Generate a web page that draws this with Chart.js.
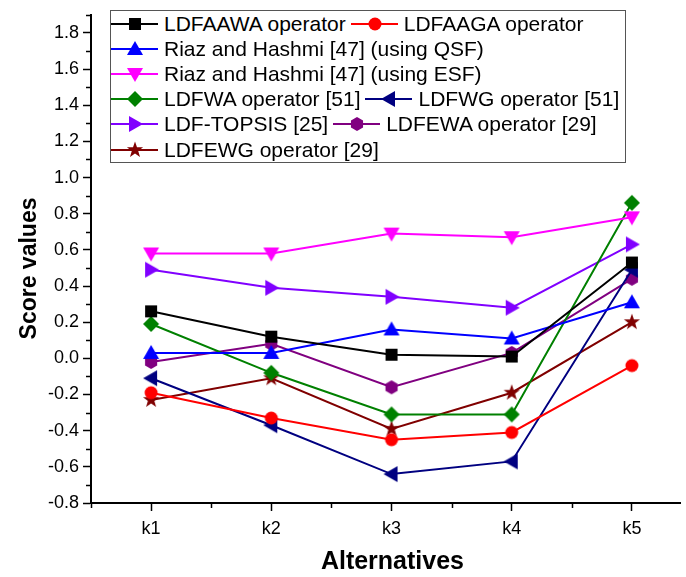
<!DOCTYPE html>
<html>
<head>
<meta charset="utf-8">
<script src="https://cdn.jsdelivr.net/npm/chart.js@4/dist/chart.umd.min.js"></script>
<style>
  body { margin: 0; background: #fff; }
  .wrap { position: relative; width: 686px; height: 577px; overflow: hidden; }
  .legend {
    position: absolute; left: 110px; top: 10px; width: 516px; height: 153px;
    box-sizing: border-box; border: 1px solid #555; background: #fff;
    font-family: "Liberation Sans", Arial, sans-serif; font-size: 21px; color: #000;
    padding-top: 0;
  }
  .legend .row { height: 25.2px; display: flex; align-items: center; white-space: nowrap; }
  .legend .item { display: flex; align-items: center; }
  .legend canvas { margin-right: 6px; }
  .legend .item + .item canvas { margin-left: 5px; }
</style>
</head>
<body>
<div class="wrap">
  <canvas id="chart" width="686" height="577"></canvas>
  <div class="legend" id="legend"></div>
</div>
<script>
const categories = ['k1', 'k2', 'k3', 'k4', 'k5'];

const ldfaawa = [0.26, 0.12, 0.02, 0.01, 0.53];
const ldfaaga = [-0.19, -0.33, -0.45, -0.41, -0.04];
const riazQsf = [0.03, 0.03, 0.16, 0.11, 0.31];
const riazEsf = [0.58, 0.58, 0.69, 0.67, 0.78];
const ldfwa = [0.19, -0.08, -0.31, -0.31, 0.86];
const ldfwg = [-0.11, -0.37, -0.64, -0.57, 0.49];
const ldfTopsis = [0.49, 0.39, 0.34, 0.28, 0.63];
const ldfewa = [-0.02, 0.08, -0.16, 0.03, 0.44];
const ldfewg = [-0.23, -0.11, -0.39, -0.19, 0.20];

const seriesNames = [
  'LDFAAWA operator',
  'LDFAAGA operator',
  'Riaz and Hashmi [47] (using QSF)',
  'Riaz and Hashmi [47] (using ESF)',
  'LDFWA operator [51]',
  'LDFWG operator [51]',
  'LDF-TOPSIS [25]',
  'LDFEWA operator [29]',
  'LDFEWG operator [29]',
];
const seriesValues = [ldfaawa, ldfaaga, riazQsf, riazEsf, ldfwa, ldfwg, ldfTopsis, ldfewa, ldfewg];
const seriesColors = ['#000000', '#ff0000', '#0000ff', '#ff00ff', '#008000', '#000080', '#8000ff', '#800080', '#800000'];
const seriesMarkers = ['square', 'circle', 'up', 'down', 'diamond', 'left', 'right', 'hexagon', 'star'];

// legend rows, as in the original figure
const legendRows = [[0, 1], [2], [3], [4, 5], [6, 7], [8]];

// draw one marker shape on a 2d context
const drawMarker = (ctx, shape, cx, cy, color) => {
  ctx.fillStyle = color;
  ctx.beginPath();
  if (shape === 'square') {
    ctx.rect(cx - 6, cy - 6, 12, 12);
  } else if (shape === 'circle') {
    ctx.arc(cx, cy, 6.5, 0, Math.PI * 2);
  } else if (shape === 'up') {
    ctx.moveTo(cx, cy - 8); ctx.lineTo(cx + 8, cy + 6); ctx.lineTo(cx - 8, cy + 6);
  } else if (shape === 'down') {
    ctx.moveTo(cx, cy + 8); ctx.lineTo(cx + 8, cy - 6); ctx.lineTo(cx - 8, cy - 6);
  } else if (shape === 'left') {
    ctx.moveTo(cx - 8, cy); ctx.lineTo(cx + 6, cy - 8); ctx.lineTo(cx + 6, cy + 8);
  } else if (shape === 'right') {
    ctx.moveTo(cx + 8, cy); ctx.lineTo(cx - 6, cy - 8); ctx.lineTo(cx - 6, cy + 8);
  } else if (shape === 'diamond') {
    ctx.moveTo(cx, cy - 8); ctx.lineTo(cx + 8, cy); ctx.lineTo(cx, cy + 8); ctx.lineTo(cx - 8, cy);
  } else if (shape === 'hexagon') {
    for (let i = 0; i < 6; i++) {
      const a = -Math.PI / 2 + i * Math.PI / 3;
      ctx.lineTo(cx + 7 * Math.cos(a), cy + 7 * Math.sin(a));
    }
  } else if (shape === 'star') {
    for (let i = 0; i < 10; i++) {
      const a = -Math.PI / 2 + i * Math.PI / 5;
      const r = i % 2 === 0 ? 8.5 : 3.4;
      ctx.lineTo(cx + r * Math.cos(a), cy + r * Math.sin(a));
    }
  }
  ctx.closePath();
  ctx.fill();
};

const makeMarkerImage = (shape, color) => {
  const c = document.createElement('canvas');
  c.width = 20; c.height = 20;
  drawMarker(c.getContext('2d'), shape, 10, 10, color);
  return c;
};

const buildLegend = () => {
  const legend = document.getElementById('legend');
  legendRows.forEach((row) => {
    const rowEl = document.createElement('div');
    rowEl.className = 'row';
    row.forEach((i) => {
      const item = document.createElement('div');
      item.className = 'item';
      const sample = document.createElement('canvas');
      sample.width = 47; sample.height = 20;
      const ctx = sample.getContext('2d');
      ctx.strokeStyle = seriesColors[i];
      ctx.lineWidth = 2;
      ctx.beginPath(); ctx.moveTo(0, 10); ctx.lineTo(47, 10); ctx.stroke();
      drawMarker(ctx, seriesMarkers[i], 24, 10, seriesColors[i]);
      const label = document.createElement('span');
      label.textContent = seriesNames[i];
      item.appendChild(sample);
      item.appendChild(label);
      rowEl.appendChild(item);
    });
    legend.appendChild(rowEl);
  });
};

const isMajorY = (v) => Math.abs(Math.round(v * 10)) % 2 === 0;
const isMajorX = (v) => Math.abs(v - Math.round(v)) < 1e-6;

// short minor ticks drawn outward from the axes
const minorTicks = {
  id: 'minorTicks',
  afterDraw(chart) {
    const { ctx, chartArea, scales } = chart;
    ctx.save();
    ctx.strokeStyle = '#000';
    ctx.lineWidth = 1.5;
    scales.y.ticks.forEach((t) => {
      if (isMajorY(t.value)) return;
      const py = Math.round(scales.y.getPixelForValue(t.value)) + 0.5;
      ctx.beginPath(); ctx.moveTo(chartArea.left - 5, py); ctx.lineTo(chartArea.left, py); ctx.stroke();
    });
    scales.x.ticks.forEach((t) => {
      if (isMajorX(t.value)) return;
      const px = Math.round(scales.x.getPixelForValue(t.value)) + 0.5;
      ctx.beginPath(); ctx.moveTo(px, chartArea.bottom); ctx.lineTo(px, chartArea.bottom + 5); ctx.stroke();
    });
    ctx.restore();
  },
};

const renderChart = () => {
  const datasets = seriesValues.map((values, i) => ({
    label: seriesNames[i],
    data: values.map((v, j) => ({ x: j + 1, y: v })),
    borderColor: seriesColors[i],
    backgroundColor: seriesColors[i],
    borderWidth: 2,
    pointStyle: makeMarkerImage(seriesMarkers[i], seriesColors[i]),
    tension: 0,
  }));

  const font = { family: '"Liberation Sans", Arial, sans-serif', size: 18 };
  const family = '"Liberation Sans", Arial, sans-serif';

  new Chart(document.getElementById('chart'), {
    type: 'line',
    data: { datasets },
    options: {
      responsive: false,
      animation: false,
      devicePixelRatio: 1,
      layout: { padding: { top: 14, right: 0, left: 0, bottom: 0 } },
      plugins: { legend: { display: false }, tooltip: { enabled: false } },
      scales: {
        x: {
          type: 'linear',
          min: 0.5,
          max: 5.4,
          afterFit: (s) => { s.height = 74; s.paddingRight = 0; },
          afterBuildTicks: (s) => {
            const ticks = [];
            for (let v = 0.5; v <= 5.01; v += 0.5) ticks.push({ value: v });
            s.ticks = ticks;
          },
          ticks: {
            color: '#000',
            font,
            padding: 7,
            maxRotation: 0,
            autoSkip: false,
            callback: (v) => (isMajorX(v) ? categories[Math.round(v) - 1] : ''),
          },
          grid: {
            drawOnChartArea: false,
            tickLength: 8,
            tickWidth: 1.5,
            tickColor: (c) => (c.tick && isMajorX(c.tick.value) ? '#000' : 'rgba(0,0,0,0)'),
          },
          border: { color: '#000', width: 2 },
          title: { display: true, text: '  Alternatives', color: '#000', font: { family, size: 25, weight: 'bold' }, padding: { top: 0, bottom: 0 } },
        },
        y: {
          min: -0.8,
          max: 1.9,
          afterFit: (s) => { s.width = 91; },
          ticks: {
            stepSize: 0.1,
            color: '#000',
            font,
            padding: 4,
            autoSkip: false,
            callback: (v) => (isMajorY(v) ? v.toFixed(1) : ''),
          },
          grid: {
            drawOnChartArea: false,
            tickLength: 8,
            tickWidth: 1.5,
            tickColor: (c) => (c.tick && isMajorY(c.tick.value) ? '#000' : 'rgba(0,0,0,0)'),
          },
          border: { color: '#000', width: 2 },
          title: { display: true, text: 'Score values   ', color: '#000', font: { family, size: 23, weight: 'bold' }, padding: { top: 16, bottom: 0 } },
        },
      },
    },
    plugins: [minorTicks],
  });
};

buildLegend();
renderChart();
</script>
</body>
</html>
